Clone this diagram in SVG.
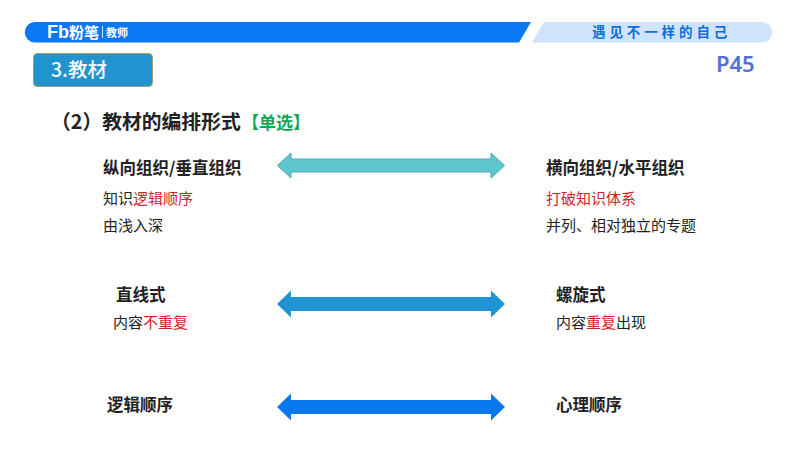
<svg xmlns="http://www.w3.org/2000/svg" width="800" height="450" viewBox="0 0 800 450">
<style>
text{font-family:"Noto Sans CJK SC","Noto Sans",sans-serif;fill:#222}
.h{font-size:16.500px;font-weight:700}
.b{font-size:15px}
.r{fill:#d3232a}
.a{stroke-width:1}
</style>
<rect width="800" height="450" fill="#fff"/>
<g id="header">
<path d="M35 22H531L519 42.500H35A10.250 10.250 0 0 1 35 22Z" fill="#0a78f5"/>
<path d="M544 22H762A10.250 10.250 0 0 1 762 42.500H532Z" fill="#cfe3fd"/>
<text x="47" y="38" style="font-family:'Liberation Sans',sans-serif;fill:#fff;font-size:18px;font-weight:700">Fb</text>
<text x="69" y="38" style="fill:#fff;font-size:15px;font-weight:700">粉笔</text>
<rect x="102" y="26" width="1" height="12" fill="#cfe3fd"/>
<text x="106" y="37" style="fill:#fff;font-size:11px;font-weight:700">教师</text>
<text x="592" y="37" style="fill:#0a6fdc;font-size:13.500px;font-weight:700;letter-spacing:3.900px">遇见不一样的自己</text>
</g>
<g id="section">
<rect x="33.500" y="53.500" width="119" height="33" rx="4" fill="#2194cf" stroke="#a89a6e"/>
<text x="51" y="77" style="fill:#fff;font-size:19.500px;font-weight:500">3.教材</text>
</g>
<text x="716" y="72" style="font-family:'Noto Sans',sans-serif;fill:#5470d8;font-size:22px;font-weight:600">P45</text>
<g id="title">
<text x="51" y="129" style="font-size:19.800px;font-weight:700">（2）教材的编排形式</text>
<text x="242" y="129" style="fill:#10a858;font-size:17px;font-weight:700">【单选】</text>
</g>
<g id="connectors">
<path class="a" d="M277.500 165.500L291 153V159H491V153L504.500 165.500L491 178V172H291V178Z" fill="#5ec7cd" stroke="#4fa8b0"/>
<path class="a" d="M277 304L291 290.500V297H491V290.500L505 304L491 317.500V311H291V317.500Z" fill="#1e94d2"/>
<path class="a" d="M277 407L291 393.500V400H491V393.500L505 407L491 420.500V414H291V420.500Z" fill="#0a78ec"/>
</g>
<g id="left-1">
<text class="h" x="103" y="174">纵向组织/垂直组织</text>
<text class="b" x="103" y="204">知识<tspan class="r">逻辑顺序</tspan></text>
<text class="b" x="103" y="231">由浅入深</text>
</g>
<g id="right-1">
<text class="h" x="546" y="174">横向组织/水平组织</text>
<text class="b r" x="546" y="204">打破知识体系</text>
<text class="b" x="546" y="231">并列、相对独立的专题</text>
</g>
<g id="left-2">
<text class="h" x="116" y="301">直线式</text>
<text class="b" x="113" y="328">内容<tspan class="r">不重复</tspan></text>
</g>
<g id="right-2">
<text class="h" x="556" y="301">螺旋式</text>
<text class="b" x="556" y="328">内容<tspan class="r">重复</tspan>出现</text>
</g>
<g id="left-3"><text class="h" x="107" y="411">逻辑顺序</text></g>
<g id="right-3"><text class="h" x="556" y="411">心理顺序</text></g>
</svg>
